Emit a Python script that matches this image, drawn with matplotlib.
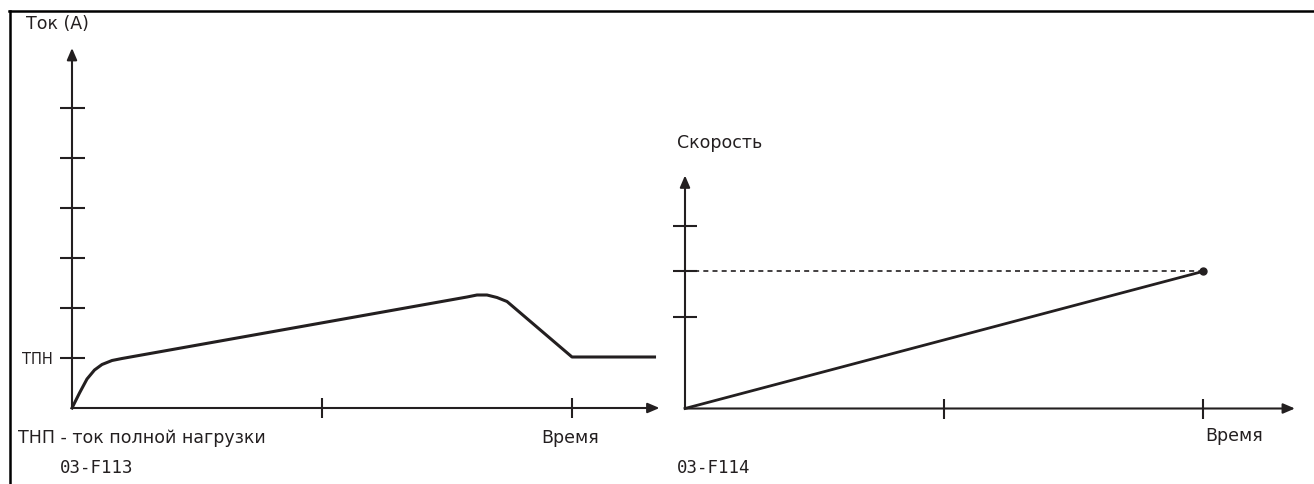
import matplotlib.pyplot as plt
from matplotlib.lines import Line2D

INK = "#231f20"
W, H = 1314, 484

# Left chart: current vs time (tick units)
cur_t = [0.0, 0.03, 0.06, 0.09, 0.12, 0.16, 0.20, 1.58, 1.62, 1.66, 1.70, 1.74, 2.00, 2.33]
cur_a = [0.0, 0.30, 0.58, 0.76, 0.87, 0.95, 0.99, 2.22, 2.26, 2.26, 2.21, 2.13, 1.02, 1.02]
cur_xticks = [1, 2]
cur_yticks = [1, 2, 3, 4, 5, 6]
cur_ylabels = ["ТПН", "", "", "", "", ""]

# Right chart: speed vs time
spd_t = [0.0, 2.0]
spd_v = [0.0, 3.0]
spd_xticks = [1, 2]
spd_yticks = [2, 3, 4]


def place(fig, origin, unit, xlim, ylim):
    # put an axes so that data (0,0) lands on a given pixel and one unit = unit px
    ox, oy = origin
    ux, uy = unit
    left = ox + ux * xlim[0]
    right = ox + ux * xlim[1]
    bottom = oy - uy * ylim[0]
    top = oy - uy * ylim[1]
    ax = fig.add_axes([left / W, (H - bottom) / H, (right - left) / W, (bottom - top) / H])
    ax.set_xlim(*xlim)
    ax.set_ylim(*ylim)
    ax.patch.set_alpha(0)
    for s in ["top", "right"]:
        ax.spines[s].set_visible(False)
    for s in ["left", "bottom"]:
        ax.spines[s].set_position(("data", 0))
        ax.spines[s].set_visible(False)
    return ax


def arrows(ax, xend, yend):
    ap = dict(arrowstyle="-|>,head_length=0.7,head_width=0.3", lw=1.5,
              color=INK, shrinkA=0, shrinkB=0)
    ax.annotate("", xy=(xend, 0), xytext=(0, 0), arrowprops=ap, annotation_clip=False)
    ax.annotate("", xy=(0, yend), xytext=(0, 0), arrowprops=ap, annotation_clip=False)


fig = plt.figure(figsize=(W / 100, H / 100), dpi=100)
font = "DejaVu Sans"

# background / frame
bg = fig.add_axes([0, 0, 1, 1])
bg.set_xlim(0, W)
bg.set_ylim(H, 0)
bg.axis("off")
bg.add_line(Line2D([9, W], [11, 11], color="black", lw=1.8))
bg.add_line(Line2D([10, 10], [11, H], color="black", lw=1.8))

# left chart
ax1 = place(fig, (72, 408), (250, 50), (-0.2, 2.4), (-0.5, 7.4))
arrows(ax1, 2.35, 7.2)
ax1.plot(cur_t, cur_a, color=INK, lw=2.2, solid_joinstyle="round")
ax1.set_xticks(cur_xticks)
ax1.set_xticklabels([])
ax1.set_yticks(cur_yticks)
ax1.set_yticklabels(cur_ylabels, fontsize=10.5, family=font, color=INK)
ax1.tick_params(axis="y", direction="inout", length=18, width=1.5, color=INK, pad=5)
ax1.tick_params(axis="x", direction="inout", length=15, width=1.5, color=INK)

# right chart
ax2 = place(fig, (685, 408.5), (259, 45.7), (-0.1, 2.42), (-0.5, 5.5))
arrows(ax2, 2.355, 5.1)
ax2.plot([0, spd_t[-1]], [spd_v[-1], spd_v[-1]], color=INK, lw=1.2, ls=(0, (3, 2.5)))
ax2.plot(spd_t, spd_v, color=INK, lw=2.0)
ax2.plot(spd_t[-1], spd_v[-1], "o", color=INK, ms=5)
ax2.set_xticks(spd_xticks)
ax2.set_xticklabels([])
ax2.set_yticks(spd_yticks)
ax2.set_yticklabels([])
ax2.tick_params(axis="y", direction="inout", length=17, width=1.5, color=INK)
ax2.tick_params(axis="x", direction="inout", length=15, width=1.5, color=INK)

# texts
kw = dict(family=font, fontsize=12.5, color=INK, va="center")
bg.text(26, 24, "Ток (A)", **kw)
bg.text(18, 438, "ТНП - ток полной нагрузки", **kw)
bg.text(541, 438, "Время", **kw)
bg.text(677, 143, "Скорость", **kw)
bg.text(1205, 436, "Время", **kw)
mono = dict(family="DejaVu Sans Mono", fontsize=12.5, color=INK, va="center")
bg.text(60, 468, "03-F113", **mono)
bg.text(677, 468, "03-F114", **mono)

fig.savefig("out.png", dpi=100)
